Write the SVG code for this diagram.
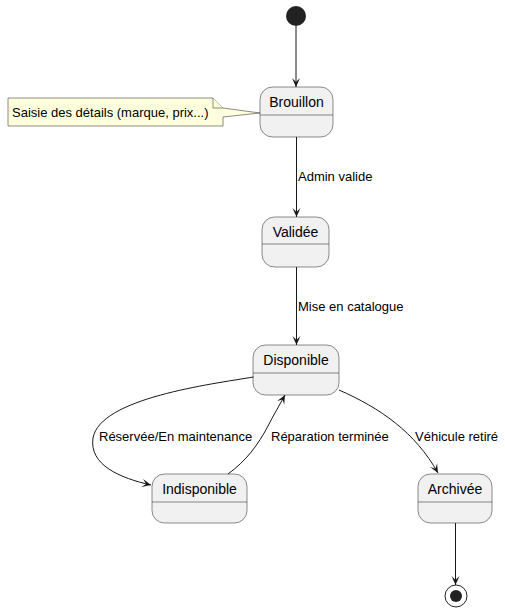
<svg xmlns="http://www.w3.org/2000/svg" width="505" height="612" viewBox="0 0 505 612">
<style>
.st rect{fill:#F1F1F1;stroke:#181818;stroke-width:0.5}
.st line{stroke:#181818;stroke-width:0.5}
.st text{font-family:"Liberation Sans",Arial,sans-serif;font-size:14px;fill:#000;text-anchor:middle}
.lbl{font-family:"Liberation Sans",Arial,sans-serif;font-size:13px;fill:#000}
.edge{fill:none;stroke:#181818;stroke-width:1}
</style>
<defs>
<marker id="arr" markerUnits="userSpaceOnUse" markerWidth="10" markerHeight="10" viewBox="0 0 10 8" refX="9" refY="4" orient="auto">
<path d="M0,0 L9,4 L0,8 L4,4 Z" fill="#181818"/>
</marker>
</defs>
<g id="start"><circle cx="296" cy="16" r="10" fill="#222222"/></g>
<g id="note">
<path d="M8,98 L213,98 L223,108 L223,108 L260,113 L223,117 L223,126 L8,126 Z" fill="#FEFFDD" stroke="#181818" stroke-width="0.5"/>
<path d="M213,98 L213,108 L223,108" fill="#FEFFDD" stroke="#181818" stroke-width="0.5"/>
<text x="12" y="117" class="lbl">Saisie des détails (marque, prix...)</text>
</g>
<g id="brouillon" class="st"><rect x="260" y="87" width="73" height="50" rx="12.5"/><line x1="260" y1="115" x2="333" y2="115"/><text x="296.5" y="107">Brouillon</text></g>
<g id="validee" class="st"><rect x="262" y="217" width="67" height="50" rx="12.5"/><line x1="262" y1="244" x2="329" y2="244"/><text x="295.5" y="237">Validée</text></g>
<g id="disponible" class="st"><rect x="253" y="345" width="86" height="50" rx="12.5"/><line x1="253" y1="373" x2="339" y2="373"/><text x="296" y="365">Disponible</text></g>
<g id="indisponible" class="st"><rect x="152" y="474" width="95" height="49" rx="12.5"/><line x1="152" y1="502" x2="247" y2="502"/><text x="199.5" y="494">Indisponible</text></g>
<g id="archivee" class="st"><rect x="418" y="474" width="74" height="49" rx="12.5"/><line x1="418" y1="502" x2="492" y2="502"/><text x="455" y="494">Archivée</text></g>
<g id="end"><circle cx="456" cy="596" r="11" fill="none" stroke="#222222" stroke-width="1"/><circle cx="456" cy="596" r="6" fill="#222222"/></g>
<g id="connectors">
<path class="edge" d="M296,26 L296,87" marker-end="url(#arr)"/>
<path class="edge" d="M296.5,137 L296.5,217" marker-end="url(#arr)"/>
<text x="298" y="181" class="lbl">Admin valide</text>
<path class="edge" d="M296.5,267 L296.5,345" marker-end="url(#arr)"/>
<text x="298" y="311" class="lbl">Mise en catalogue</text>
<path class="edge" d="M253.5,377 C212,384 100,398 93,438 C89,465 120,478 151,485" marker-end="url(#arr)"/>
<text x="99" y="441" class="lbl">Réservée/En maintenance</text>
<path class="edge" d="M228,474 C246,461 258,445 268,426 C273,416 279,406 285,395" marker-end="url(#arr)"/>
<text x="271" y="441" class="lbl">Réparation terminée</text>
<path class="edge" d="M339,390 C380,408 415,432 438,473" marker-end="url(#arr)"/>
<text x="415" y="441" class="lbl">Véhicule retiré</text>
<path class="edge" d="M455.5,523 L455.5,585" marker-end="url(#arr)"/>
</g>
</svg>
